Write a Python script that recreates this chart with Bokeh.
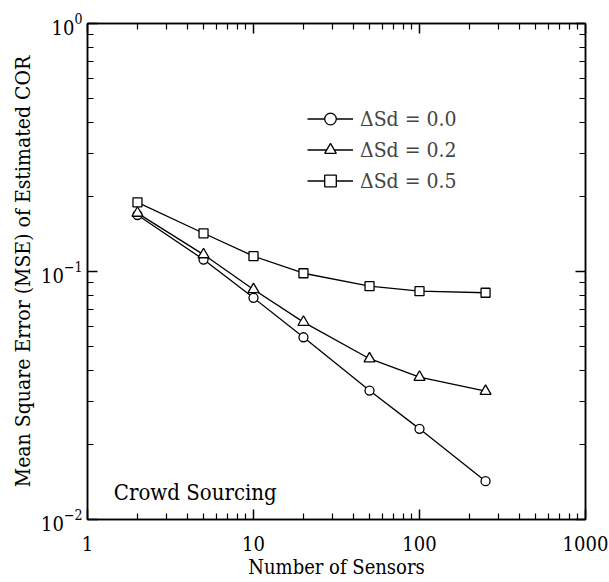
from bokeh.plotting import figure
from bokeh.models import (Range1d, FixedTicker, LogAxis, Legend, LegendItem,
                          NumeralTickFormatter, LogTickFormatter, Label)
from bokeh.embed import file_html
from bokeh.resources import INLINE

# ---- data ----
sensors = [2, 5, 10, 20, 50, 100, 250]
mse_00 = [0.169, 0.1117, 0.0783, 0.0543, 0.0331, 0.0232, 0.01427]
mse_02 = [0.172, 0.117, 0.0846, 0.0625, 0.0445, 0.0375, 0.0329]
mse_05 = [0.190, 0.1426, 0.1153, 0.0984, 0.0873, 0.0833, 0.0821]
labels = ["ΔSd = 0.0", "ΔSd = 0.2", "ΔSd = 0.5"]
markers = ["circle", "triangle", "square"]
marker_sizes = [9, 11, 9]

x_major = [1, 10, 100, 1000]
y_major = [0.01, 0.1, 1]

FONT = "DejaVu Serif Condensed"

x_minor = [m * d for d in x_major[:-1] for m in range(2, 10)]
y_minor = [m * d for d in y_major[:-1] for m in range(2, 10)]

p = figure(width=609, height=582, x_axis_type="log", y_axis_type="log",
           x_range=Range1d(1, 1000), y_range=Range1d(0.01, 1),
           output_backend="svg", toolbar_location=None,
           min_border_left=87, min_border_right=24,
           min_border_top=23, min_border_bottom=63)
p.xgrid.visible = False
p.ygrid.visible = False
p.background_fill_color = "white"
p.border_fill_color = "white"
p.outline_line_color = "black"
p.outline_line_width = 1.5

items = []
for ys, lab, mk, ms in zip([mse_00, mse_02, mse_05], labels, markers, marker_sizes):
    r1 = p.line(sensors, ys, line_color="black", line_width=1.3)
    r2 = p.scatter(sensors, ys, marker=mk, size=ms, fill_color="white",
                   line_color="black", line_width=1.3)
    items.append(LegendItem(label=lab, renderers=[r1, r2]))

legend = Legend(items=items, location=(220, 324), padding=0, margin=0,
                glyph_width=46, glyph_height=29, label_height=29, spacing=2,
                label_standoff=7, label_text_font=FONT,
                label_text_font_size="21px", border_line_color=None,
                background_fill_alpha=0)
p.add_layout(legend)


def style(ax, ticks, minor, show_labels=True):
    ax.ticker = FixedTicker(ticks=ticks, minor_ticks=minor)
    ax.major_tick_in = 10
    ax.major_tick_out = 0
    ax.minor_tick_in = 6
    ax.minor_tick_out = 0
    ax.axis_line_width = 1.5
    ax.major_tick_line_width = 1.5
    ax.minor_tick_line_width = 1.2
    ax.major_label_text_font = FONT
    ax.major_label_text_color = "black"
    ax.axis_label_text_font = FONT
    ax.axis_label_text_font_style = "normal"
    ax.axis_label_text_color = "black"
    if not show_labels:
        ax.major_label_text_font_size = "1px"
        ax.major_label_text_alpha = 0
        ax.major_label_standoff = 0


xax = p.xaxis[0]
style(xax, x_major, x_minor)
xax.formatter = NumeralTickFormatter(format="0")
xax.major_label_text_font_size = "20px"
xax.major_label_standoff = 16
xax.axis_label = "Number of Sensors"
xax.axis_label_text_font_size = "20px"
xax.axis_label_standoff = 1

yax = p.yaxis[0]
style(yax, y_major, y_minor)
yax.formatter = LogTickFormatter()
yax.major_label_text_font_size = "20px"
yax.major_label_standoff = 5
yax.axis_label = "Mean Square Error (MSE) of Estimated COR"
yax.axis_label_text_font_size = "21px"
yax.axis_label_standoff = 3

top = LogAxis()
style(top, x_major, x_minor, show_labels=False)
p.add_layout(top, "above")
right = LogAxis()
style(right, y_major, y_minor, show_labels=False)
p.add_layout(right, "right")

note = Label(x=1.44, y=0.01285, text="Crowd Sourcing", text_font=FONT,
             text_font_size="22px", text_baseline="alphabetic",
             text_color="black")
p.add_layout(note)

open("out.html", "w").write(file_html(p, INLINE))
